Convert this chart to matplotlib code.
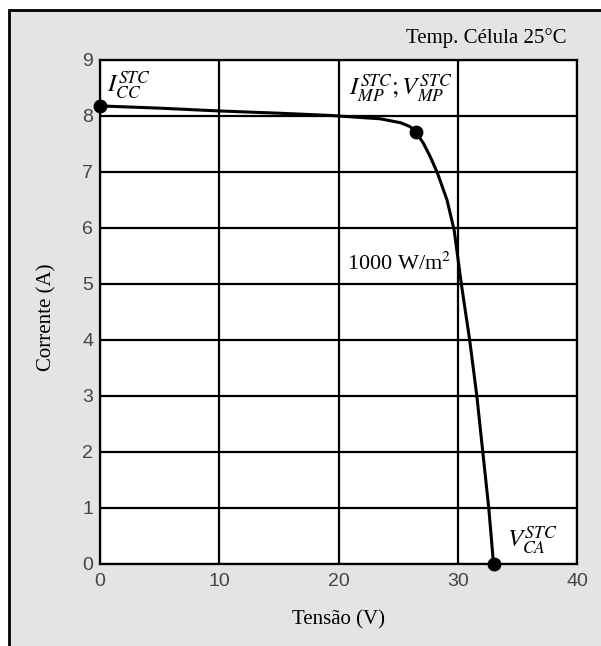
import matplotlib
matplotlib.use("Agg")
import matplotlib.pyplot as plt
from matplotlib.patches import Rectangle

# curva I-V do módulo nas condições STC
tensao = [0, 5, 10, 15, 19.3, 23.5, 25.2, 26.0, 26.5, 27.1, 27.7, 28.3, 29.1, 29.7,
          30.3, 31.0, 31.6, 32.1, 32.6, 33.0]
corrente = [8.18, 8.14, 8.09, 8.05, 8.01, 7.95, 7.88, 7.81, 7.71, 7.52, 7.27, 6.98, 6.5, 5.96,
            5.0, 4.0, 3.0, 2.0, 1.0, 0.0]

# pontos notáveis
v_pontos = [0, 26.5, 33.0]
i_pontos = [8.18, 7.71, 0.0]

x_ticks = [0, 10, 20, 30, 40]
y_ticks = [0, 1, 2, 3, 4, 5, 6, 7, 8, 9]

plt.rcParams['mathtext.fontset'] = 'stix'
serif = ['Liberation Serif', 'DejaVu Serif']
sans = ['Liberation Sans', 'DejaVu Sans']

fig = plt.figure(figsize=(6.01, 6.46), dpi=100)

# moldura cinza de fundo
fig.patches.append(Rectangle((9 / 601, -0.1), 1.2, (636 / 646) + 0.1,
                             transform=fig.transFigure, facecolor='#e4e4e4',
                             edgecolor='black', linewidth=2, zorder=-10))

ax = fig.add_axes([100 / 601, 82 / 646, 477 / 601, 504 / 646])
ax.set_facecolor('white')

ax.plot(tensao, corrente, color='black', linewidth=2.2, zorder=3)
ax.plot(v_pontos, i_pontos, 'o', color='black', markersize=9, clip_on=False, zorder=4)

ax.set_xlim(0, 40)
ax.set_ylim(0, 9)
ax.set_xticks(x_ticks)
ax.set_yticks(y_ticks)
ax.grid(True, color='black', linewidth=1.6)
ax.set_axisbelow(True)
for s in ax.spines.values():
    s.set_linewidth(1.6)
ax.tick_params(length=0, labelsize=14, labelcolor='#454545')
ax.tick_params(axis='x', pad=6.5)
ax.tick_params(axis='y', pad=5)
for lab in ax.get_xticklabels() + ax.get_yticklabels():
    lab.set_family(sans)

ax.set_xlabel('Tensão (V)', family=serif, fontsize=15)
ax.set_ylabel('Corrente (A)', family=serif, fontsize=15)
ax.xaxis.set_label_coords(0.5, -0.091)
ax.yaxis.set_label_coords(-0.092, 0.49)

ax.text(0.6, 8.53, r'$I_{CC}^{STC}$', fontsize=18, va='center', ha='left')
ax.text(20.9, 8.48, r'$I_{MP}^{STC};V_{MP}^{STC}$', fontsize=18, va='center', ha='left')
ax.text(20.7, 5.37, r'1000 W/m$^2$', family=serif, fontsize=16, va='center', ha='left')
ax.text(34.1, 0.41, r'$V_{CA}^{STC}$', fontsize=18, va='center', ha='left')

fig.text(567 / 601, 1 - 38 / 646, 'Temp. Célula 25°C', family=serif, fontsize=15,
         ha='right', va='center')

fig.savefig('out.png', dpi=100)
